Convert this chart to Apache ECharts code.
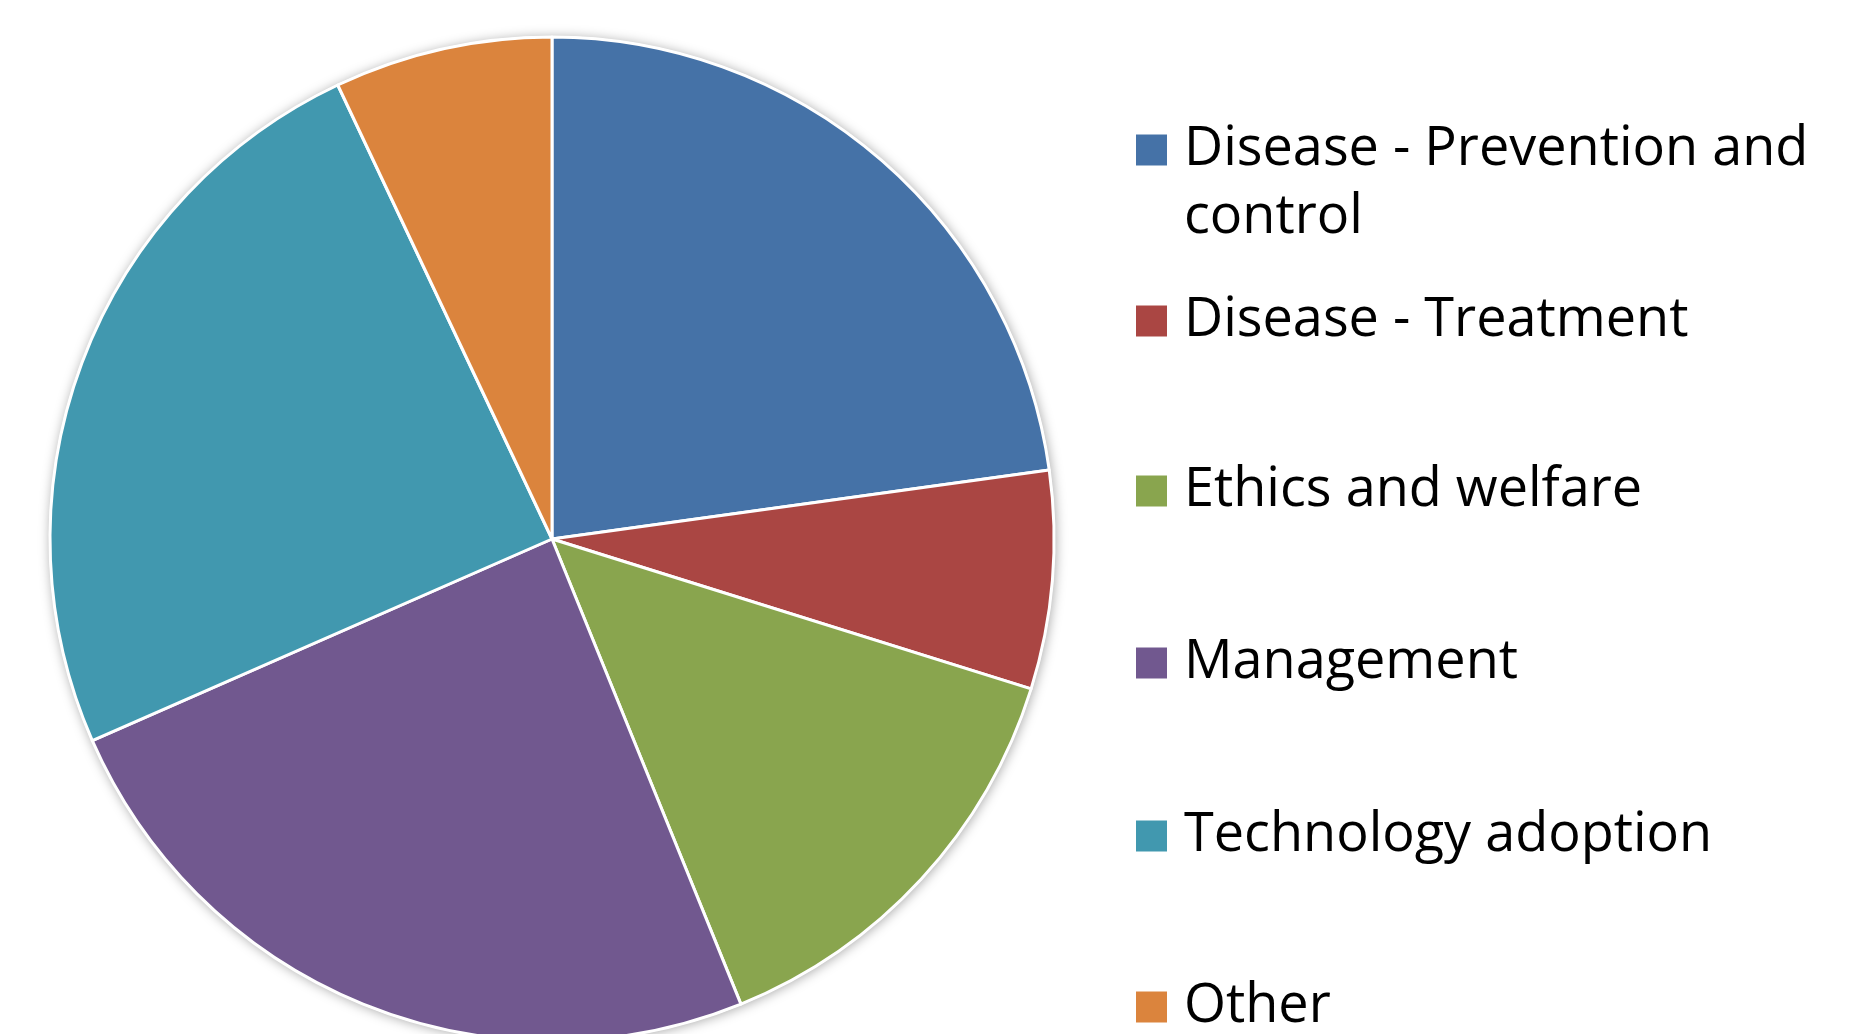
<!DOCTYPE html>
<html>
<head>
<meta charset="utf-8">
<script src="https://cdn.jsdelivr.net/npm/echarts@6/dist/echarts.min.js"></script>
<style>
  html, body { margin: 0; padding: 0; background: #ffffff; }
  #chart { width: 1863px; height: 1034px; }
</style>
</head>
<body>
<div id="chart"></div>
<script>
const categories = [
  'Disease - Prevention and control',
  'Disease - Treatment',
  'Ethics and welfare',
  'Management',
  'Technology adoption',
  'Other'
];
const legendLabels = [
  ' \nDisease - Prevention and\ncontrol',
  'Disease - Treatment',
  'Ethics and welfare',
  'Management',
  'Technology adoption',
  'Other'
];
const values = [13, 4, 8, 14, 14, 4];
const colors = ['#4572A7', '#AA4643', '#89A54E', '#71588F', '#4198AF', '#DB843D'];

const FONT = "'Open Sans', 'Noto Sans', 'DejaVu Sans', sans-serif";
const legendTops = [48, 287, 457, 629, 802, 973];

const legends = categories.map(function (name, i) {
  return {
    data: [name],
    orient: 'vertical',
    left: 1136,
    top: legendTops[i],
    padding: 0,
    itemWidth: 31,
    itemHeight: 31,
    icon: 'rect',
    selectedMode: false,
    itemStyle: { borderWidth: 0 },
    formatter: function () { return legendLabels[i]; },
    textStyle: {
      fontFamily: FONT,
      fontSize: 54,
      color: '#000000',
      lineHeight: 68,
      padding: [0, 0, 0, 12]
    }
  };
});

const chart = echarts.init(document.getElementById('chart'), null, { renderer: 'canvas' });
chart.setOption({
  animation: false,
  backgroundColor: '#ffffff',
  color: colors,
  legend: legends,
  series: [
    {
      type: 'pie',
      silent: true,
      center: [552, 539],
      radius: 503,
      label: { show: false },
      labelLine: { show: false },
      itemStyle: {
        color: '#ffffff',
        shadowBlur: 12,
        shadowColor: 'rgba(0,0,0,0.35)',
        shadowOffsetX: 1,
        shadowOffsetY: 1
      },
      data: [{ value: 1, name: '__bg' }]
    },
    {
      type: 'pie',
      center: [552, 539],
      radius: 502,
      startAngle: 90,
      clockwise: true,
      label: { show: false },
      labelLine: { show: false },
      itemStyle: { borderColor: '#ffffff', borderWidth: 3 },
      emphasis: { disabled: true },
      data: categories.map(function (name, i) {
        return { name: name, value: values[i], itemStyle: { color: colors[i] } };
      })
    }
  ]
});
</script>
</body>
</html>
